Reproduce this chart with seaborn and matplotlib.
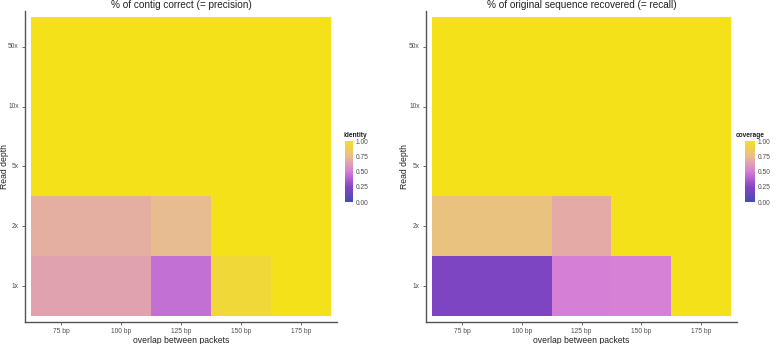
import numpy as np
import pandas as pd
import matplotlib
matplotlib.use("Agg")
import matplotlib.pyplot as plt
import seaborn as sns
from matplotlib.colors import LinearSegmentedColormap

# -----------------------------
# data
# -----------------------------
depths = ["50x", "10x", "5x", "2x", "1x"]          # top to bottom
overlaps = ["75 bp", "100 bp", "125 bp", "150 bp", "175 bp"]

identity_50x = [1.0, 1.0, 1.0, 1.0, 1.0]
identity_10x = [1.0, 1.0, 1.0, 1.0, 1.0]
identity_5x = [1.0, 1.0, 1.0, 1.0, 1.0]
identity_2x = [0.69, 0.69, 0.74, 1.0, 1.0]
identity_1x = [0.64, 0.64, 0.44, 0.93, 1.0]

coverage_50x = [1.0, 1.0, 1.0, 1.0, 1.0]
coverage_10x = [1.0, 1.0, 1.0, 1.0, 1.0]
coverage_5x = [1.0, 1.0, 1.0, 1.0, 1.0]
coverage_2x = [0.78, 0.78, 0.67, 1.0, 1.0]
coverage_1x = [0.22, 0.22, 0.50, 0.51, 1.0]

cbar_ticks = [0.0, 0.25, 0.5, 0.75, 1.0]

identity = pd.DataFrame([identity_50x, identity_10x, identity_5x, identity_2x, identity_1x],
                        index=depths, columns=overlaps)
coverage = pd.DataFrame([coverage_50x, coverage_10x, coverage_5x, coverage_2x, coverage_1x],
                        index=depths, columns=overlaps)

# gradient like the ggplot scale
cmap = LinearSegmentedColormap.from_list(
    "bpy", ["#4050b0", "#8744c4", "#d57ed8", "#e9be8e", "#f4e11a"])

sns.set_style("white")
plt.rcParams["font.family"] = ["Liberation Sans", "DejaVu Sans"]

fig = plt.figure(figsize=(7.78, 3.44), dpi=100)
W, H = 778, 344


def box(x0, y0, x1, y1):
    # pixel box -> figure fraction
    return [x0 / W, 1 - y1 / H, (x1 - x0) / W, (y1 - y0) / H]


panels = [
    (identity, "identity", "% of contig correct (= precision)",
     box(25, 11, 337, 322), box(345, 141, 353, 202), 343, -0.050),
    (coverage, "coverage", "% of original sequence recovered (= recall)",
     box(426, 11, 737, 322), box(745, 141, 755, 202), 736, -0.055),
]

for df, name, title, apos, cpos, tx, ylx in panels:
    ax = fig.add_axes(apos)
    cax = fig.add_axes(cpos)
    sns.heatmap(df, ax=ax, cmap=cmap, vmin=0, vmax=1, cbar_ax=cax,
                cbar_kws={"ticks": cbar_ticks})
    ax.set_xlim(-0.1, 5.1)
    ax.set_ylim(5.1, -0.1)
    for side in ["left", "bottom"]:
        ax.spines[side].set_visible(True)
        ax.spines[side].set_color("#555555")
        ax.spines[side].set_linewidth(1.0)
    for side in ["top", "right"]:
        ax.spines[side].set_visible(False)
    ax.tick_params(axis="both", which="both", length=2.5, width=0.6, color="#555555",
                   labelsize=4.8, labelcolor="#4d4d4d", pad=2,
                   bottom=True, left=True)
    ax.set_yticklabels(depths, rotation=0)
    ax.set_xticklabels(overlaps, rotation=0)
    ax.set_xlabel("overlap between packets", fontsize=6.2, color="#222222", labelpad=0.5)
    ax.set_ylabel("Read depth", fontsize=6.2, color="#222222")
    ax.yaxis.set_label_coords(ylx, 0.5)
    ax.set_title(title, fontsize=7.2, color="#222222", pad=2)

    cbar = ax.collections[0].colorbar
    cbar.outline.set_visible(False)
    cax.tick_params(direction="in", length=2, width=0.6, color="white",
                    labelsize=4.8, labelcolor="#4d4d4d", pad=2)
    cax.set_yticklabels(["0.00", "0.25", "0.50", "0.75", "1.00"])
    fig.text(tx / W, 1 - 139 / H, name, fontsize=4.8, fontweight="bold",
             color="#222222", ha="left", va="bottom")

fig.savefig("out.png", dpi=100)
